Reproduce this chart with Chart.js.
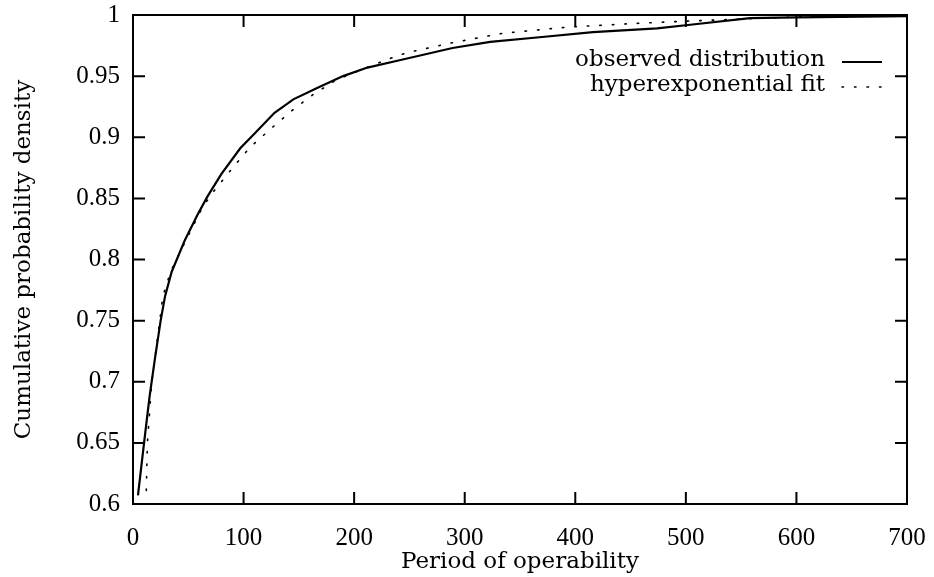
<!DOCTYPE html>
<html lang="en">
<head>
  <meta charset="utf-8">
  <title>Period of operability</title>
  <script src="https://cdn.jsdelivr.net/npm/chart.js@4/dist/chart.umd.min.js"></script>
  <style>
    html, body { margin: 0; padding: 0; background: #fff; }
    #wrap { width: 934px; height: 577px; }
  </style>
</head>
<body>
<div id="wrap"><canvas id="chart" width="934" height="577"></canvas></div>
<script>
  // values
  var obsX = [4.5, 10, 15, 20, 25, 29, 35, 47, 58, 67, 80, 97, 110, 128, 145, 166, 190, 212, 241, 289, 323, 370, 416, 474, 504, 558, 600, 700];
  var obsY = [0.607, 0.65, 0.688, 0.72, 0.75, 0.77, 0.79, 0.816, 0.836, 0.851, 0.870, 0.891, 0.903, 0.92, 0.931, 0.940, 0.950, 0.957, 0.963, 0.973, 0.978, 0.982, 0.986, 0.989, 0.992, 0.9975, 0.998, 0.999];
  var fitX = [12, 13, 17, 23.5, 27, 34, 42.5, 63, 74, 92, 106, 126, 144, 163, 184, 217, 240, 252, 287, 334, 392, 452, 501, 560, 620, 700];
  var fitY = [0.611, 0.65, 0.70, 0.745, 0.77, 0.79, 0.806, 0.843, 0.857, 0.877, 0.892, 0.908, 0.922, 0.935, 0.947, 0.959, 0.967, 0.970, 0.977, 0.985, 0.990, 0.993, 0.995, 0.997, 0.999, 1.0];
  var seriesNames = ['observed distribution', 'hyperexponential fit'];
  var xTicks = [0, 100, 200, 300, 400, 500, 600, 700];
  var yTicks = [0.6, 0.65, 0.7, 0.75, 0.8, 0.85, 0.9, 0.95, 1];

  var NUMFONT = '"Liberation Serif", serif';
  var TXTFONT = '"DejaVu Serif", "Liberation Serif", serif';

  function pts(xs, ys) {
    var out = [];
    for (var i = 0; i < xs.length; i++) out.push({x: xs[i], y: ys[i]});
    return out;
  }

  // gnuplot-style frame: box with inward ticks on all four sides, plus key
  var framePlugin = {
    id: 'frame',
    afterDatasetsDraw: function (chart) {
      var ctx = chart.ctx, a = chart.chartArea;
      var xs = chart.scales.x, ys = chart.scales.y;
      var len = 12;
      ctx.save();
      ctx.strokeStyle = '#000';
      ctx.lineWidth = 2;
      ctx.strokeRect(a.left, a.top, a.right - a.left, a.bottom - a.top);
      ctx.beginPath();
      xTicks.forEach(function (v) {
        var px = xs.getPixelForValue(v);
        ctx.moveTo(px, a.bottom); ctx.lineTo(px, a.bottom - len);
        ctx.moveTo(px, a.top); ctx.lineTo(px, a.top + len);
      });
      yTicks.forEach(function (v) {
        var py = ys.getPixelForValue(v);
        ctx.moveTo(a.left, py); ctx.lineTo(a.left + len, py);
        ctx.moveTo(a.right, py); ctx.lineTo(a.right - len, py);
      });
      ctx.stroke();

      // key
      ctx.font = '23px ' + TXTFONT;
      ctx.fillStyle = '#000';
      ctx.textAlign = 'right';
      ctx.textBaseline = 'middle';
      var textRight = 825, lx0 = 842, lx1 = 882;
      var rows = [60, 85];
      chart.data.datasets.forEach(function (ds, i) {
        ctx.fillText(ds.label, textRight, rows[i]);
        ctx.beginPath();
        ctx.lineWidth = ds.borderWidth;
        ctx.setLineDash(ds.borderDash || []);
        ctx.lineCap = ds.borderCapStyle || 'butt';
        ctx.moveTo(lx0, rows[i] + 2);
        ctx.lineTo(lx1, rows[i] + 2);
        ctx.stroke();
        ctx.setLineDash([]);
      });
      ctx.restore();
    }
  };

  new Chart(document.getElementById('chart'), {
    type: 'line',
    data: {
      datasets: [{
        label: seriesNames[0],
        data: pts(obsX, obsY),
        borderColor: '#000',
        borderWidth: 2.2,
        pointRadius: 0,
        tension: 0
      }, {
        label: seriesNames[1],
        data: pts(fitX, fitY),
        borderColor: '#000',
        borderWidth: 1.6,
        borderDash: [1.5, 11],
        borderCapStyle: 'round',
        pointRadius: 0,
        tension: 0
      }]
    },
    options: {
      responsive: false,
      animation: false,
      layout: { padding: { top: 15, right: 27, left: 0, bottom: 0 } },
      plugins: { legend: { display: false }, tooltip: { enabled: false } },
      scales: {
        x: {
          type: 'linear',
          min: 0, max: 700,
          afterFit: function (s) { s.height = 73; s.paddingLeft = 0; s.paddingRight = 0; },
          afterBuildTicks: function (s) { s.ticks = xTicks.map(function (v) { return {value: v}; }); },
          grid: { display: false, drawTicks: false },
          border: { display: false },
          ticks: { color: '#000', padding: 19, maxRotation: 0, font: { family: NUMFONT, size: 25 } },
          title: { display: true, text: 'Period of operability', color: '#000', padding: { top: 0, bottom: 1 }, font: { family: TXTFONT, size: 23 } }
        },
        y: {
          type: 'linear',
          min: 0.6, max: 1,
          afterFit: function (s) { s.width = 133; s.paddingTop = 0; s.paddingBottom = 0; },
          afterBuildTicks: function (s) { s.ticks = yTicks.map(function (v) { return {value: v}; }); },
          grid: { display: false, drawTicks: false },
          border: { display: false },
          ticks: { color: '#000', padding: 13, font: { family: NUMFONT, size: 25 },
            callback: function (v) { return String(+v.toFixed(2)); } },
          title: { display: true, text: 'Cumulative probability density', color: '#000', padding: { top: 10, bottom: 0 }, font: { family: TXTFONT, size: 23 } }
        }
      }
    },
    plugins: [framePlugin]
  });
</script>
</body>
</html>
